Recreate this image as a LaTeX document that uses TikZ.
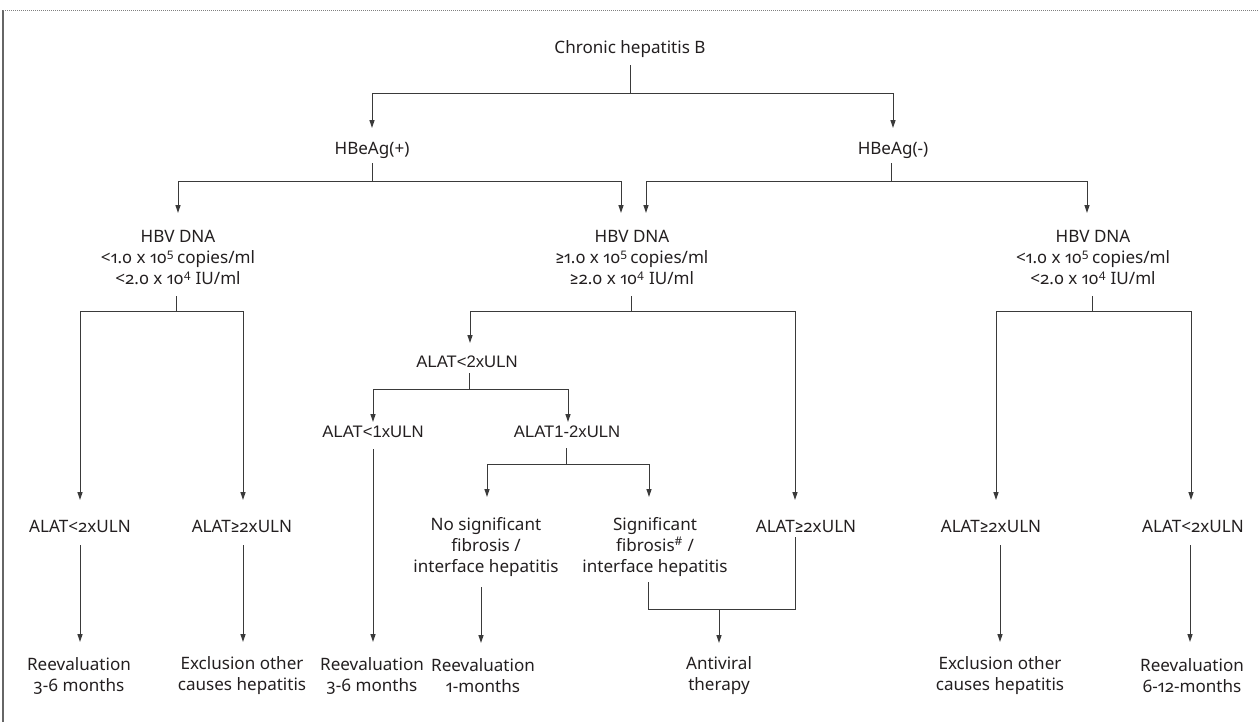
\documentclass[tikz,border=0pt]{standalone}
\usepackage{fontspec}
\setmainfont{Noto Sans}[Numbers={OldStyle,Proportional}]
\newfontfamily\arialf{Liberation Sans}
\newfontfamily\symfont{Fira Sans}
\newcommand{\geqsym}{{\symfont ≥}}
\usetikzlibrary{arrows.meta,calc}
\definecolor{ink}{HTML}{231F20}
\definecolor{wire}{HTML}{3A3A3A}
\begin{document}
\begin{tikzpicture}[x=0.75pt,y=-0.75pt,
  txt/.style={font=\fontsize{12.8}{15.75}\selectfont, text=ink, inner sep=0pt, align=center},
  atxt/.style={font=\arialf\fontsize{12.5}{15}\selectfont, text=ink, inner sep=0pt, align=center},
  wireline/.style={draw=wire, line width=0.75pt},
  arr/.style={wireline, -{Triangle[length=6pt,width=3.8pt]}},
  framel/.style={draw=gray!80!black, line width=0.9pt},
  dotl/.style={draw=gray, line width=0.75pt, dash pattern=on 0.75pt off 0.75pt}]
\useasboundingbox (0,0) rectangle (1258,722);
\draw[framel] (3,722) -- (3,10);
\draw[dotl] (3,10) -- (1258,10);

% nodes
\node[txt] (chb) at (630,49) {Chronic hepatitis B};
\node[txt] (hbp) at (372,150) {HBeAg(+)};
\node[txt] (hbn) at (893,150) {HBeAg(-)};
\node[txt] (dnaL) at (178,257) {HBV DNA\\<1.0 x 10\textsuperscript{5}\,copies/ml\\<2.0 x 10\textsuperscript{4} IU/ml};
\node[txt] (dnaM) at (632,257) {HBV DNA\\\geqsym1.0 x 10\textsuperscript{5}\,copies/ml\\\geqsym2.0 x 10\textsuperscript{4} IU/ml};
\node[txt] (dnaR) at (1093,257) {HBV DNA\\<1.0 x 10\textsuperscript{5}\,copies/ml\\<2.0 x 10\textsuperscript{4} IU/ml};
\node[txt] (aL1) at (80,526) {ALAT<2xULN};
\node[txt] (aL2) at (242,526) {ALAT\geqsym2xULN};
\node[atxt] (aM) at (467,362) {ALAT<2xULN};
\node[atxt] (aM1) at (373,432) {ALAT<1xULN};
\node[atxt] (aM2) at (567,432) {ALAT1-2xULN};
\node[txt] (nsf) at (486,547) {No significant\\fibrosis /\\interface hepatitis};
\node[txt] (sf) at (655,547) {Significant\\fibrosis\textsuperscript{\#} /\\interface hepatitis};
\node[txt] (aM3) at (806,526) {ALAT\geqsym2xULN};
\node[txt] (aR1) at (991,526) {ALAT\geqsym2xULN};
\node[txt] (aR2) at (1193,526) {ALAT<2xULN};
\node[txt] (rL) at (79,676) {Reevaluation\\3-6 months};
\node[txt] (eL) at (242,676) {Exclusion other\\causes hepatitis};
\node[txt] (rM) at (372,676) {Reevaluation\\3-6 months};
\node[txt] (r1) at (483,676) {Reevaluation\\1-months};
\node[txt] (av) at (719,676) {Antiviral\\therapy};
\node[txt] (eR) at (1000,676) {Exclusion other\\causes hepatitis};
\node[txt] (rR) at (1192,676) {Reevaluation\\6-12-months};

% level 1
\coordinate (f0) at (630,93);
\draw[wireline] ($(chb)+(0,16)$) -- (f0);
\draw[arr] (f0) -| ($(hbp)+(0,-22)$);
\draw[arr] (f0) -| ($(hbn)+(0,-22)$);

% level 2
\coordinate (f1) at (372,181);
\draw[wireline] ($(hbp)+(0,13)$) -- (f1);
\draw[arr] (f1) -| ($(dnaL)+(0,-44)$);
\draw[arr] (f1) -| ($(dnaM)+(-11,-44)$);
\coordinate (f2) at (891,181);
\draw[wireline] ($(hbn)+(-2,13)$) -- (f2);
\draw[arr] (f2) -| ($(dnaM)+(14,-44)$);
\draw[arr] (f2) -| ($(dnaR)+(-6,-44)$);

% left branch
\coordinate (f3) at (176,311);
\draw[wireline] ($(dnaL)+(-2,39)$) -- (f3);
\draw[arr] (f3) -| ($(aL1)+(0,-26)$);
\draw[arr] (f3) -| ($(aL2)+(1,-26)$);
\draw[arr] ($(aL1)+(0,19)$) -- ($(rL)+(1,-34)$);
\draw[arr] ($(aL2)+(1,19)$) -- ($(eL)+(1,-34)$);

% middle branch
\coordinate (f4) at (631,311);
\draw[wireline] ($(dnaM)+(-1,39)$) -- (f4);
\draw[arr] (f4) -| ($(aM)+(3,-19)$);
\draw[arr] (f4) -| ($(aM3)+(-11,-26)$);
\coordinate (f5) at (469,389);
\draw[wireline] ($(aM)+(2,11)$) -- (f5);
\draw[arr] (f5) -| ($(aM1)+(0,-10)$);
\draw[arr] (f5) -| ($(aM2)+(1,-10)$);
\draw[arr] ($(aM1)+(0,17)$) -- ($(rM)+(1,-34)$);
\coordinate (f6) at (566,464);
\draw[wireline] ($(aM2)+(-1,16)$) -- (f6);
\draw[arr] (f6) -| ($(nsf)+(1,-50)$);
\draw[arr] (f6) -| ($(sf)+(-6,-50)$);
\draw[arr] ($(nsf)+(-5,40)$) -- ($(r1)+(-2,-33)$);
\coordinate (f7) at (719,609);
\draw[wireline] ($(sf)+(-7,35)$) |- ($(aM3)+(-11,83)$) -- ($(aM3)+(-11,11)$);
\draw[arr] (f7) -- ($(av)+(0,-33)$);

% right branch
\coordinate (f8) at (1092,311);
\draw[wireline] ($(dnaR)+(-1,39)$) -- (f8);
\draw[arr] (f8) -| ($(aR1)+(5,-26)$);
\draw[arr] (f8) -| ($(aR2)+(-2,-26)$);
\draw[arr] ($(aR1)+(9,19)$) -- ($(eR)+(0,-34)$);
\draw[arr] ($(aR2)+(-3,19)$) -- ($(rR)+(-2,-34)$);
\end{tikzpicture}
\end{document}
